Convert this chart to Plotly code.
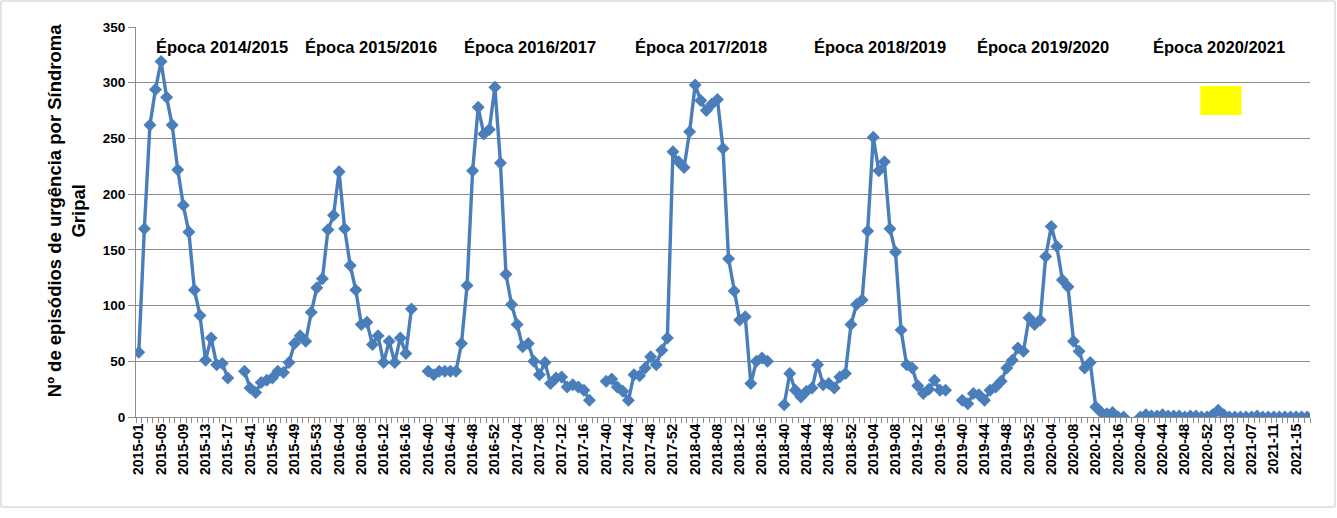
import plotly.graph_objects as go

# weeks kept per year on the category axis (flu seasons: weeks 40-53 and 1-19)
YEAR_WEEKS = [
    (2015, list(range(1, 20)) + list(range(40, 54))),
    (2016, list(range(1, 20)) + list(range(40, 53))),
    (2017, list(range(1, 20)) + list(range(40, 53))),
    (2018, list(range(1, 20)) + list(range(40, 53))),
    (2019, list(range(1, 20)) + list(range(40, 53))),
    (2020, list(range(1, 20)) + list(range(40, 54))),
    (2021, list(range(1, 18))),
]
categories = [f"{y}-{w:02d}" for y, weeks in YEAR_WEEKS for w in weeks]
tick_labels = categories[::4]

# weekly counts per season (2015-01..2015-17, then 40..17 for the others)
s2014_15 = [58, 169, 262, 294, 319, 287, 262, 222, 190, 166, 114, 91, 51, 71, 47, 48, 35]
s2015_16 = [41, 26, 22, 31, 33, 35, 41, 40, 49, 66, 73, 68, 94, 116, 124, 168, 181, 220,
            169, 136, 114, 83, 85, 65, 73, 49, 68, 49, 71, 57, 97]
s2016_17 = [41, 38, 41, 41, 41, 41, 66, 118, 221, 278, 254, 258, 296, 228, 128, 101, 83,
            63, 66, 50, 38, 49, 30, 35, 36, 27, 29, 27, 24, 15]
s2017_18 = [32, 34, 27, 23, 15, 38, 37, 44, 54, 47, 60, 71, 238, 229, 224, 256, 298, 284,
            275, 281, 285, 241, 142, 113, 87, 90, 30, 50, 53, 50]
s2018_19 = [11, 39, 24, 18, 23, 26, 47, 29, 30, 26, 36, 39, 83, 101, 105, 167, 251, 221,
            229, 169, 148, 78, 47, 44, 28, 21, 25, 33, 24, 24]
s2019_20 = [15, 12, 21, 20, 15, 24, 27, 32, 44, 51, 62, 59, 89, 83, 87, 144, 171, 153,
            123, 117, 68, 59, 44, 49, 9, 4, 3, 4, 0, 0]
s2020_21 = [0, 2, 1, 1, 2, 1, 1, 1, 0, 1, 1, 0, 0, 2, 6, 2, 0, 0, 0, 0, 0, 1, 0, 0, 0,
            0, 0, 0, 0, 0, 0]

season_names = ["Época 2014/2015", "Época 2015/2016", "Época 2016/2017", "Época 2017/2018",
                "Época 2018/2019", "Época 2019/2020", "Época 2020/2021"]
season_label_pos = [14.9, 41.7, 70.4, 101, 133.2, 162.5, 194.1]

GAP = [None, None]  # weeks 18-19 have no data
values = (s2014_15 + GAP + s2015_16 + GAP + s2016_17 + GAP + s2017_18 + GAP
          + s2018_19 + GAP + s2019_20 + GAP + s2020_21)

BLUE = "#4A7EBB"
GRID = "#8C8C8C"
FONT = "Liberation Sans, Arial, sans-serif"

fig = go.Figure(go.Scatter(
    x=categories, y=values, mode="lines+markers",
    line=dict(color=BLUE, width=3.4),
    marker=dict(symbol="diamond", size=10, color=BLUE),
    connectgaps=False, showlegend=False, hoverinfo="skip",
))

for name, pos in zip(season_names, season_label_pos):
    fig.add_annotation(x=pos, y=332, xref="x", yref="y", text=f"<b>{name}</b>",
                       showarrow=False, font=dict(size=16.5, color="black", family=FONT))

# yellow highlight box
fig.add_shape(type="rect", xref="x", yref="y", x0=190.8, x1=198.2, y0=271, y1=297,
              fillcolor="#FFFF00", line=dict(width=0), layer="above")

# chart-area border
fig.add_shape(type="rect", xref="paper", yref="paper", x0=-0.1150, x1=1.0213,
              y0=-0.2308, y1=1.0667, line=dict(color="#C8C8C8", width=1))

fig.add_annotation(
    x=-0.0806, y=0.53, xref="paper", yref="paper", textangle=-90, showarrow=False,
    text="<b>Nº de episódios de urgência por Síndroma<br>Gripal</b>",
    font=dict(size=18.5, color="black", family=FONT),
)

fig.update_layout(
    width=1337, height=518,
    margin=dict(l=136, r=27, t=27, b=101),
    plot_bgcolor="white", paper_bgcolor="white",
    font=dict(family=FONT, color="black"),
    xaxis=dict(
        type="category", categoryorder="array", categoryarray=categories,
        range=[-0.5, len(categories) - 0.5],
        tickmode="array", tickvals=categories,
        ticktext=[f"<b>{c}</b>" if c in tick_labels else "" for c in categories],
        tickangle=-90, tickfont=dict(size=14, family=FONT, color="black"),
        ticks="outside", ticklen=5, tickcolor=GRID, tickson="boundaries",
        showgrid=False, showline=True, linecolor=GRID, linewidth=1,
    ),
    yaxis=dict(
        range=[0, 350], dtick=50, tickfont=dict(size=13.5, family=FONT, color="black"),
        tickprefix="<b>", ticksuffix="</b>",
        showgrid=True, gridcolor=GRID, gridwidth=1,
        showline=True, linecolor=GRID, linewidth=1,
        ticks="outside", ticklen=7, tickcolor=GRID, zeroline=False,
    ),
)

# the page's default body margin would shift the figure; drop it
fig.write_html("out.html", config={"displayModeBar": False},
               post_script="document.body.style.margin='0';")
